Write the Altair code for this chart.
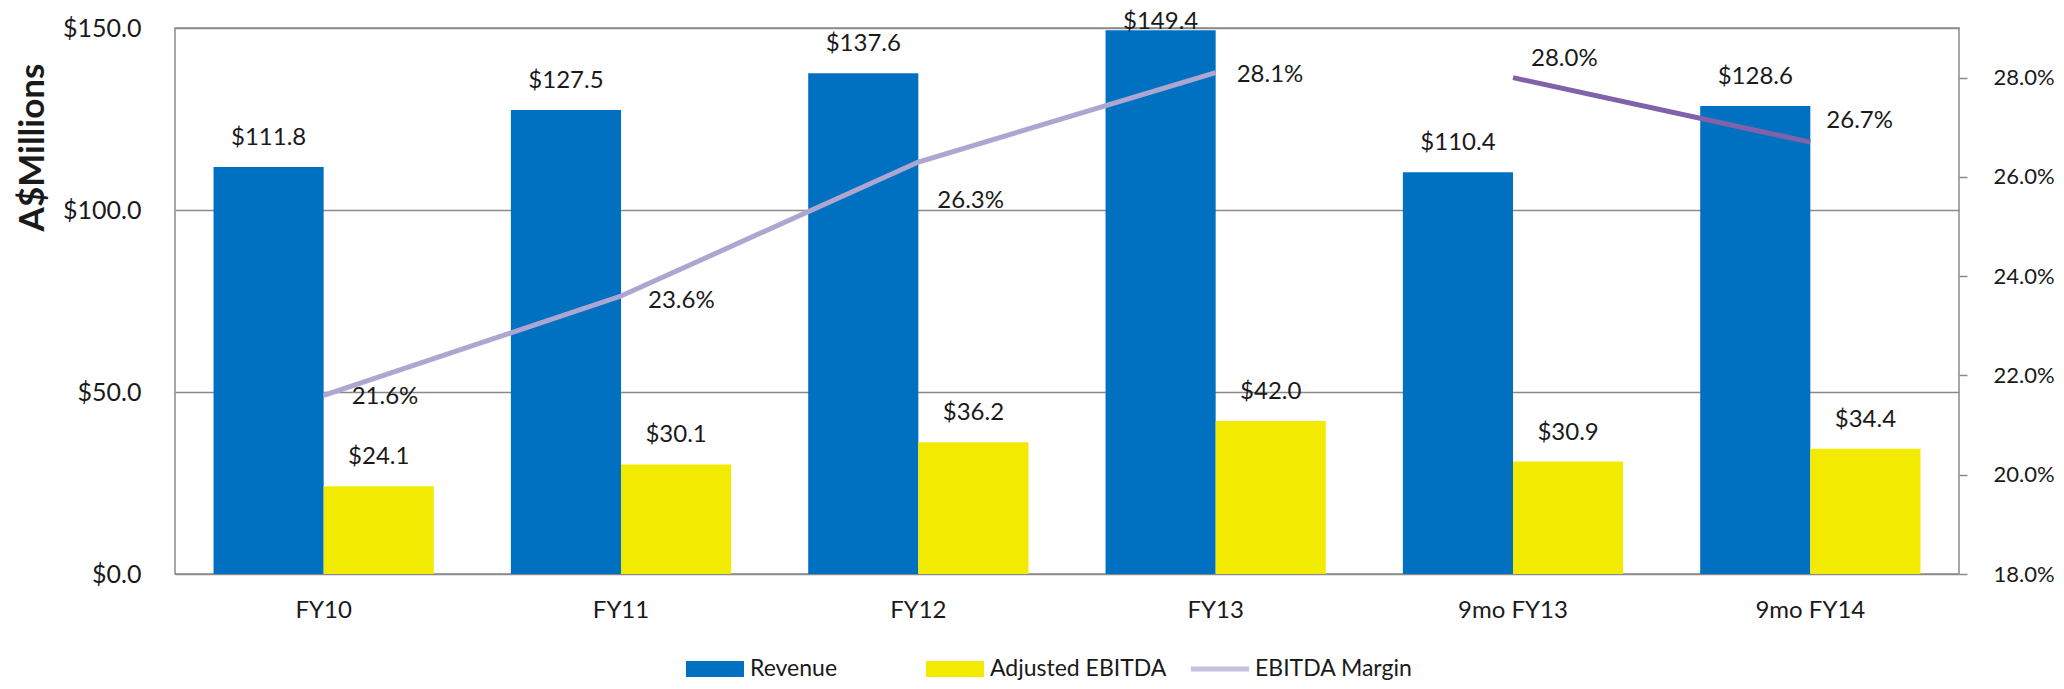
import altair as alt
import pandas as pd

# ---------------- data ----------------
categories = ["FY10", "FY11", "FY12", "FY13", "9mo FY13", "9mo FY14"]
revenue = [111.8, 127.5, 137.6, 149.4, 110.4, 128.6]
adj_ebitda = [24.1, 30.1, 36.2, 42.0, 30.9, 34.4]
ebitda_margin = [0.216, 0.236, 0.263, 0.281, 0.280, 0.267]
period = ["Full year", "Full year", "Full year", "Full year", "Nine months", "Nine months"]
bar_series = ["Revenue", "Adjusted EBITDA"]
line_series = ["EBITDA Margin"]
left_ticks = [0, 50, 100, 150]
right_ticks = [0.18, 0.20, 0.22, 0.24, 0.26, 0.28]

bars_df = pd.DataFrame({
    "category": categories * 2,
    "series": ["Revenue"] * len(categories) + ["Adjusted EBITDA"] * len(categories),
    "value": revenue + adj_ebitda,
})
line_df = pd.DataFrame({"category": categories, "margin": ebitda_margin, "period": period,
                        "series": line_series * len(categories)})

# ---------------- style ----------------
FONT = "Lato"
TEXT = "#1a1a1a"
GRID = "#8a8a8a"
BLUE = "#0070C0"
YELLOW = "#F2EA00"
LAVENDER = "#ADA6D0"
PURPLE = "#7F62A9"
FS = 24

x_enc = alt.X(
    "category:N",
    sort=categories,
    scale=alt.Scale(domain=categories, paddingInner=0, paddingOuter=0),
    axis=alt.Axis(title=None, labelAngle=0, labelFontSize=FS, labelFont=FONT,
                  labelColor=TEXT, labelPadding=24, ticks=False, domain=False, grid=False),
)
xoff_enc = alt.XOffset(
    "series:N",
    scale=alt.Scale(domain=bar_series, paddingInner=0, paddingOuter=0.35),
)
y_left = alt.Y(
    "value:Q",
    scale=alt.Scale(domain=[0, 150], nice=False, zero=True),
    axis=alt.Axis(values=left_ticks, labelExpr="'$' + format(datum.value, '.1f')",
                  title="A$Millions", titleFont=FONT, titleFontSize=35, titleFontWeight="bold",
                  titleColor=TEXT, titleAngle=270, titleX=-143, titleY=119,
                  titleAlign="center", titleBaseline="middle",
                  labelPadding=34, labelFontSize=25, labelFont=FONT, labelColor=TEXT,
                  ticks=False, domain=False, grid=True, gridColor=GRID, gridWidth=1.5),
)
y_right = alt.Y(
    "margin:Q",
    scale=alt.Scale(domain=[0.18, 0.29], nice=False, zero=False),
    axis=alt.Axis(orient="right", values=right_ticks, format=".1%", title=None,
                  ticks=True, tickSize=8, tickColor=GRID, tickWidth=1.5,
                  domain=False, grid=False, labelPadding=26, labelFontSize=22,
                  labelFont=FONT, labelColor=TEXT),
)

rect_path = "M-1,-0.28H1V0.28H-1Z"
line_path = "M-1,-0.09H1V0.09H-1Z"

legend_common = dict(orient="none", legendY=612, direction="horizontal", title=None,
                     symbolSize=3364, symbolStrokeWidth=0, labelFontSize=23, labelFont=FONT,
                     labelColor=TEXT, labelOffset=6, labelLimit=400, columnPadding=88,
                     padding=0)

color_enc = alt.Color(
    "series:N",
    scale=alt.Scale(domain=bar_series, range=[BLUE, YELLOW]),
    legend=alt.Legend(legendX=511, symbolType=rect_path, **legend_common),
)

bars = alt.Chart(bars_df).mark_bar().encode(x=x_enc, y=y_left, xOffset=xoff_enc, color=color_enc)

bar_text = dict(baseline="alphabetic", fontSize=FS, font=FONT, color=TEXT)
bar_labels = alt.Chart(bars_df).mark_text(dy=-22, **bar_text).encode(
    x=x_enc, y=y_left, xOffset=xoff_enc, text=alt.Text("value:Q", format="$.1f")
).transform_filter("!(datum.category === 'FY13' && datum.series === 'Revenue')")
bar_label_top = alt.Chart(bars_df).mark_text(dy=-1, **bar_text).encode(
    x=x_enc, y=y_left, xOffset=xoff_enc, text=alt.Text("value:Q", format="$.1f")
).transform_filter("datum.category === 'FY13' && datum.series === 'Revenue'")

left = alt.layer(bars, bar_labels, bar_label_top)

line = alt.Chart(line_df).mark_line(strokeWidth=5).encode(
    x=x_enc, y=y_right,
    stroke=alt.Stroke("period:N", scale=alt.Scale(domain=["Full year", "Nine months"],
                                                  range=[LAVENDER, PURPLE]), legend=None),
)

# legend-only layer for the line series (no marks drawn)
line_key = alt.Chart(line_df).mark_point(filled=True, color=LAVENDER, strokeWidth=0).encode(
    x=x_enc, y=y_right,
    shape=alt.Shape("series:N", scale=alt.Scale(domain=line_series, range=[line_path]),
                    legend=alt.Legend(legendX=1016, symbolFillColor=LAVENDER, **legend_common)),
).transform_filter("false")

label_offsets = {
    "FY10": (28, 2), "FY11": (27, 5), "FY12": (19, 39),
    "FY13": (21, 2), "9mo FY13": (18, -19), "9mo FY14": (16, -21),
}
line_labels = []
for cat, (ddx, ddy) in label_offsets.items():
    line_labels.append(
        alt.Chart(line_df).mark_text(align="left", baseline="middle", dx=ddx, dy=ddy,
                                     fontSize=FS, font=FONT, color=TEXT).encode(
            x=x_enc, y=y_right, text=alt.Text("margin:Q", format=".1%")
        ).transform_filter(alt.datum.category == cat)
    )

right = alt.layer(line, line_key, *line_labels)

chart = alt.layer(left, right).resolve_scale(y="independent").properties(
    width=1784, height=546,
    padding={"left": 167, "top": 20, "right": 95, "bottom": 107},
    autosize=alt.AutoSizeParams(type="none"),
    background="white",
).configure_view(stroke=GRID, strokeWidth=1.5)

chart.save("out.html", embed_options={"renderer": "svg", "actions": False})
